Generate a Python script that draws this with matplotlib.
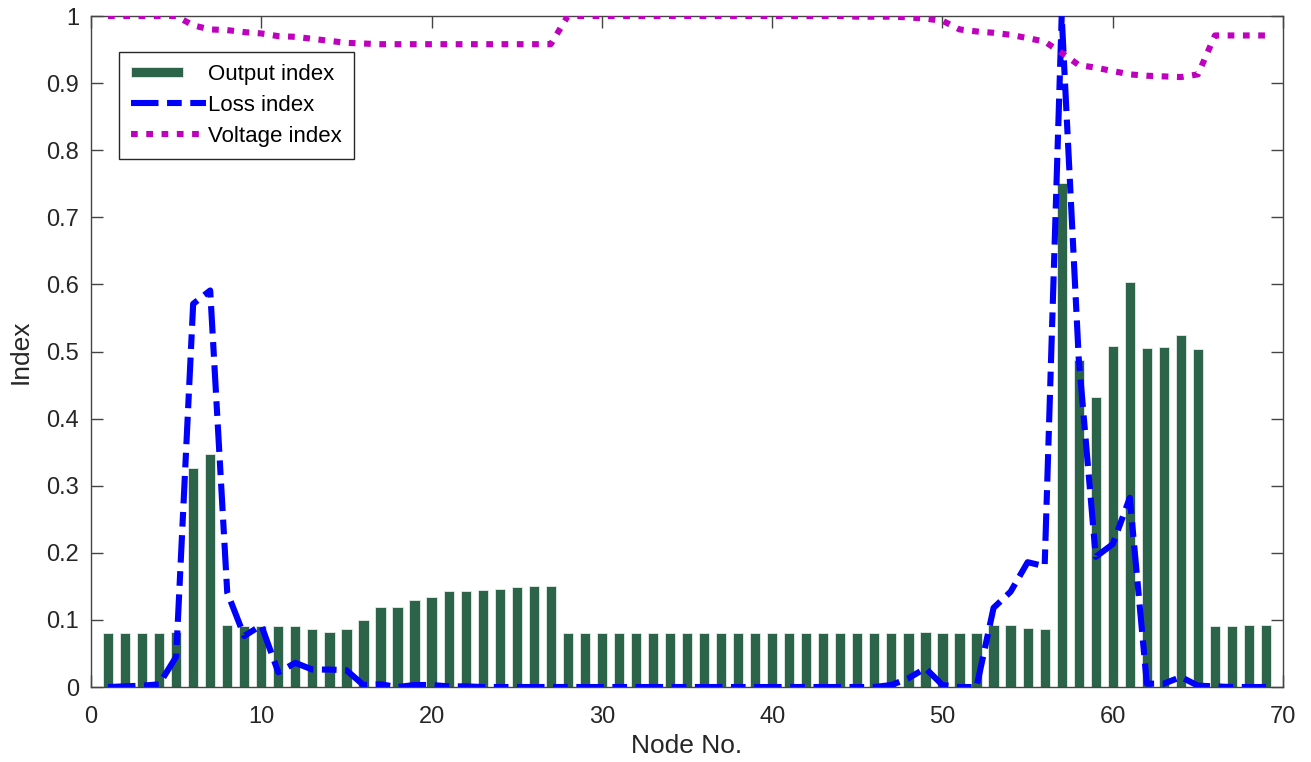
import matplotlib

matplotlib.use("Agg")

import matplotlib.pyplot as plt
import numpy as np
from matplotlib.legend_handler import HandlerPatch, update_from_first_child
from matplotlib.patches import Rectangle

# per-node data
nodes = np.arange(1, 70)

output_index = [
    0.080, 0.080, 0.080, 0.080, 0.082, 0.327, 0.347, 0.092, 0.091, 0.091,
    0.0915, 0.091, 0.086, 0.082, 0.0865, 0.0995, 0.119, 0.1195, 0.129, 0.134,
    0.1425, 0.1425, 0.1445, 0.1465, 0.1495, 0.1505, 0.151, 0.080, 0.080, 0.080,
    0.080, 0.080, 0.080, 0.080, 0.080, 0.080, 0.080, 0.080, 0.080, 0.080,
    0.080, 0.080, 0.080, 0.080, 0.080, 0.080, 0.080, 0.080, 0.082, 0.080,
    0.081, 0.081, 0.093, 0.093, 0.088, 0.086, 0.751, 0.488, 0.432, 0.508,
    0.604, 0.505, 0.506, 0.525, 0.503, 0.0915, 0.0915, 0.0925, 0.0925,
]

loss_index = [
    0.000, 0.001, 0.002, 0.004, 0.045, 0.571, 0.591, 0.141, 0.076, 0.092,
    0.022, 0.036, 0.026, 0.026, 0.025, 0.003, 0.004, 0.000, 0.003, 0.003,
    0.001, 0.001, 0.000, 0.000, 0.000, 0.000, 0.000, 0.000, 0.000, 0.000,
    0.000, 0.000, 0.000, 0.000, 0.000, 0.000, 0.000, 0.000, 0.000, 0.000,
    0.000, 0.000, 0.000, 0.000, 0.000, 0.000, 0.003, 0.013, 0.028, 0.003,
    0.000, 0.000, 0.118, 0.142, 0.186, 0.180, 1.000, 0.490, 0.194, 0.213,
    0.282, 0.005, 0.005, 0.015, 0.002, 0.001, 0.000, 0.000, 0.000,
]

voltage_index = [
    1.000, 1.000, 1.000, 1.000, 1.000, 0.986, 0.980, 0.979, 0.976, 0.974,
    0.970, 0.969, 0.966, 0.963, 0.960, 0.959, 0.958, 0.958, 0.958, 0.958,
    0.958, 0.958, 0.958, 0.958, 0.958, 0.958, 0.958, 1.000, 1.000, 1.000,
    1.000, 1.000, 1.000, 1.000, 1.000, 1.000, 1.000, 1.000, 1.000, 1.000,
    1.000, 1.000, 1.000, 1.000, 0.999, 0.999, 0.999, 0.998, 0.996, 0.993,
    0.980, 0.977, 0.975, 0.972, 0.967, 0.962, 0.945, 0.927, 0.923, 0.918,
    0.913, 0.911, 0.910, 0.909, 0.913, 0.971, 0.971, 0.971, 0.971,
]

x_ticks = [0, 10, 20, 30, 40, 50, 60, 70]
y_ticks = [0, 0.1, 0.2, 0.3, 0.4, 0.5, 0.6, 0.7, 0.8, 0.9, 1]
y_tick_labels = ["0", "0.1", "0.2", "0.3", "0.4", "0.5", "0.6", "0.7", "0.8", "0.9", "1"]

plt.rcParams["font.family"] = ["Liberation Sans", "DejaVu Sans"]
axis_grey = "#444444"
text_dark = "#262626"


def _short_bar_patch(legend, orig_handle, xdescent, ydescent, width, height, fontsize):
    # MATLAB draws the bar legend swatch shorter than the line samples
    h = height * 0.6
    return Rectangle((-xdescent, -ydescent + (height - h) / 2), width * 0.7, h)


fig = plt.figure(figsize=(13.11, 7.62), dpi=100)
ax = fig.add_axes([0.0694, 0.0984, 0.9093, 0.8806])

bars = ax.bar(nodes, output_index, width=0.6, color="#2b6449", edgecolor="#e6ece8",
              linewidth=0.6, label="Output index", zorder=2)
loss_line, = ax.plot(nodes, loss_index, color="#0000ff", linewidth=4.4,
                     dashes=(4.5, 1.4, 2.4, 1.4), dash_capstyle="butt",
                     label="Loss index", zorder=3)
volt_line, = ax.plot(nodes, voltage_index, color="#bf00bf", linewidth=4.4,
                     dashes=(1.1, 1.4), dash_capstyle="butt",
                     label="Voltage index", zorder=3)

ax.set_xlim(0, 70)
ax.set_ylim(0, 1)
ax.set_xticks(x_ticks)
ax.set_yticks(y_ticks)
ax.set_yticklabels(y_tick_labels)
ax.tick_params(direction="in", length=8.5, width=1.0, top=True, right=True,
               labelsize=17, colors=axis_grey, labelcolor=text_dark)
ax.tick_params(axis="y", pad=8.5)
ax.tick_params(axis="x", pad=14)
for spine in ax.spines.values():
    spine.set_color(axis_grey)
    spine.set_linewidth(1.0)

ax.set_xlabel("Node No.", fontsize=19, color=text_dark, labelpad=4)
ax.set_ylabel("Index", fontsize=19, color=text_dark, labelpad=10)

bar_handler = HandlerPatch(patch_func=_short_bar_patch, update_func=update_from_first_child)
leg = ax.legend(handles=[bars, loss_line, volt_line],
                loc="upper left", bbox_to_anchor=(0.0235, 0.947), fontsize=16,
                handlelength=3.35, handletextpad=0.1, borderpad=0.55,
                labelspacing=0.45, fancybox=False, framealpha=1,
                borderaxespad=0, handler_map={bars: bar_handler})
leg.get_frame().set_edgecolor(text_dark)
leg.get_frame().set_linewidth(1.0)

fig.savefig("out.png", dpi=100)
